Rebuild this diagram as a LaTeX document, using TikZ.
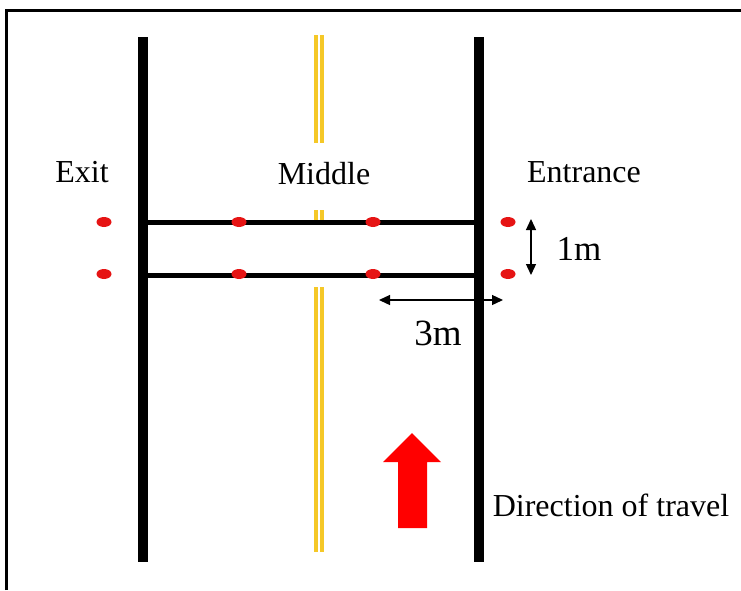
\documentclass[tikz,border=0pt]{standalone}
\usepackage{fontspec}
\setmainfont{Liberation Serif}
\usetikzlibrary{arrows.meta}
\definecolor{roadyellow}{RGB}{245,200,40}
\definecolor{dotred}{RGB}{230,20,20}
\tikzset{
  road/.style={line width=10pt},
  bar/.style={line width=5pt},
  yel/.style={roadyellow, line width=4pt},
  dim/.style={line width=1.3pt, {Triangle[length=11pt,width=10pt]}-{Triangle[length=11pt,width=10pt]}},
  lbl/.style={inner sep=0pt, font=\fontsize{32}{38}\selectfont}
}
\begin{document}
\begin{tikzpicture}[x=1pt,y=-1pt]
\useasboundingbox (0,0) rectangle (741,590);
\fill[white] (0,0) rectangle (741,590);
% frame (top and left visible)
\draw[line width=3pt] (6.5,590) -- (6.5,10.5) -- (741,10.5);
% road edges
\draw[road] (143,37) -- (143,562);
\draw[road] (479,37) -- (479,562);
% middle double yellow line
\foreach \xx in {316,321.5}{
  \draw[yel] (\xx,35) -- (\xx,143);
  \draw[yel] (\xx,210) -- (\xx,220);
  \draw[yel] (\xx,287) -- (\xx,552);
}
% crossbars
\draw[bar] (148,222) -- (474,222);
\draw[bar] (148,275) -- (474,275);
% red dots
\foreach \xx in {104,239,373,508}{
  \foreach \yy in {222,274}{
    \fill[dotred] (\xx,\yy) ellipse (7.5pt and 5pt);
  }
}
% dimension arrows
\coordinate (v1) at (531,219);
\coordinate (v2) at (531,275);
\draw[dim] (v1) -- (v2);
\coordinate (h1) at (379,300);
\coordinate (h2) at (503,300);
\draw[dim] (h1) -- (h2);
% direction arrow
\fill[red] (398,528) -- (398,462) -- (383,462) -- (412,433) -- (441,462) -- (427,462) -- (427,528) -- cycle;
% labels
\node[lbl] (exit) at (82,172) {Exit};
\node[lbl] (middle) at (324,174) {Middle};
\node[lbl] (entrance) at (584,172) {Entrance};
\node[lbl, font=\fontsize{35}{40}\selectfont] (onem) at (579,249) {1m};
\node[lbl, font=\fontsize{37}{42}\selectfont] (threem) at (438,333) {3m};
\node[lbl] (dir) at (611,505) {Direction of travel};
\end{tikzpicture}
\end{document}
